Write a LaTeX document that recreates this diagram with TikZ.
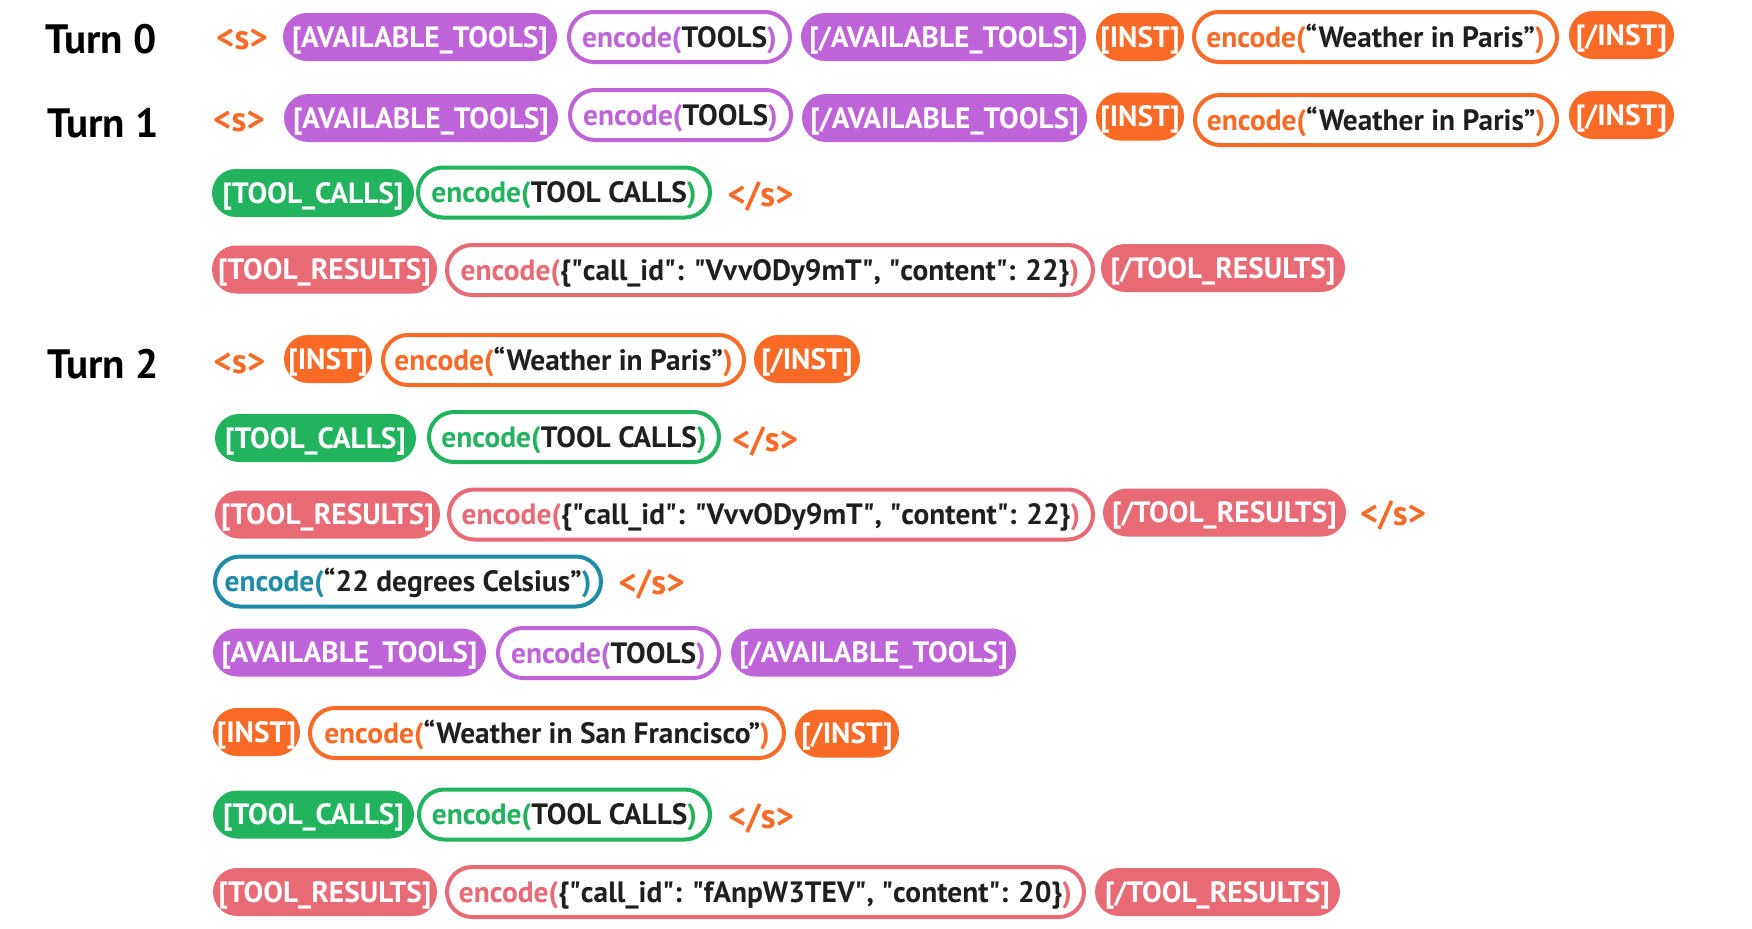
\documentclass[tikz,border=0pt]{standalone}
\usepackage{fontspec}
\setmainfont{PT Sans}
\usepackage{tikz}

\definecolor{tpurple}{HTML}{BF63D9}
\definecolor{torange}{HTML}{F86A25}
\definecolor{tgreen}{HTML}{22B35E}
\definecolor{tred}{HTML}{E86A74}
\definecolor{tteal}{HTML}{1E8DA8}
\definecolor{ink}{HTML}{1F1F1F}
\newcommand{\enctext}[2]{\textcolor{#1}{encode(}#2\textcolor{#1}{)}}
\newcommand{\qd}{\textquotedbl}

\begin{document}
\begin{tikzpicture}[x=0.5pt, y=-0.5pt,
  pill/.style={fill=#1, text=white, rounded corners=12pt, minimum height=24pt,
    inner sep=0pt, text height=12.3pt, text depth=2pt, font=\bfseries\fontsize{14.7}{17}\selectfont},
  encbox/.style={draw=#1, line width=2pt, fill=white, text=ink, rounded corners=12.5pt,
    minimum height=25pt, inner sep=0pt, text height=12.3pt, text depth=2pt,
    font=\bfseries\fontsize{14.7}{17}\selectfont},
  stok/.style={text=torange, anchor=base, inner sep=0pt, font=\bfseries\fontsize{17.5}{20}\selectfont},
  turn/.style={text=black, anchor=base west, inner sep=0pt, font=\bfseries\fontsize{20.5}{24}\selectfont}]
  \useasboundingbox (0,0) rectangle (1752,928);
  % turn labels and start tokens
  \node[turn] (turn0) at (45,53) {Turn 0};
  \node[turn] (turn1) at (47,137) {Turn 1};
  \node[turn] (turn2) at (47,378) {Turn 2};
  \foreach \x/\y/\n in {242/49/s0, 239/131/s1, 239.5/373/s2}
    \node[stok] (\n) at (\x,\y) {<s>};
  \foreach \x/\y/\n in {760.5/206/es1, 765/451/es2, 1393/525/es3, 651.5/594/es4, 761/828/es5}
    \node[stok] (\n) at (\x,\y) {</s>};
  % Turn 0
  \node[pill=tpurple, minimum width=137pt] (avt0) at (420,37) {[AVAILABLE\_TOOLS]};
  \node[encbox=tpurple, minimum width=110.5pt] (enct0) at (679.5,37) {\enctext{tpurple}{TOOLS}};
  \node[pill=tpurple, minimum width=142.5pt] (avtc0) at (943.5,37) {[/AVAILABLE\_TOOLS]};
  \node[pill=torange, minimum width=44pt] (inst0) at (1140,37) {[INST]};
  \node[encbox=torange, minimum width=181.5pt] (encw0) at (1375.5,37) {\enctext{torange}{“Weather in Paris”}};
  \node[pill=torange, minimum width=52.5pt] (instc0) at (1621.5,35) {[/INST]};
  % Turn 1
  \node[pill=tpurple, minimum width=137pt] (avt1) at (421,118) {[AVAILABLE\_TOOLS]};
  \node[encbox=tpurple, minimum width=110.5pt] (enct1) at (680.5,115) {\enctext{tpurple}{TOOLS}};
  \node[pill=tpurple, minimum width=142.5pt] (avtc1) at (944.5,118) {[/AVAILABLE\_TOOLS]};
  \node[pill=torange, minimum width=44pt] (inst1) at (1140,116.5) {[INST]};
  \node[encbox=torange, minimum width=181pt] (encw1) at (1376,120) {\enctext{torange}{“Weather in Paris”}};
  \node[pill=torange, minimum width=52.5pt] (instc1) at (1621.5,115) {[/INST]};
  \node[pill=tgreen, minimum width=101pt] (tc1) at (313,193) {[TOOL\_CALLS]};
  \node[encbox=tgreen, minimum width=146pt] (enctc1) at (564,192.5) {\enctext{tgreen}{TOOL CALLS}};
  \node[pill=tred, minimum width=112.5pt] (tr1) at (324.5,269.5) {[TOOL\_RESULTS]};
  \node[encbox=tred, minimum width=323pt] (enctr1) at (770,270)
    {\enctext{tred}{\{\qd call\_id\qd: \qd VvvODy9mT\qd, \qd content\qd: 22\}}};
  \node[pill=tred, minimum width=122pt] (trc1) at (1223,268) {[/TOOL\_RESULTS]};
  % Turn 2
  \node[pill=torange, minimum width=44pt] (inst2) at (328,359) {[INST]};
  \node[encbox=torange, minimum width=180.5pt] (encw2) at (563.5,360) {\enctext{torange}{“Weather in Paris”}};
  \node[pill=torange, minimum width=53pt] (instc2) at (807,359) {[/INST]};
  \node[pill=tgreen, minimum width=100.5pt] (tc2) at (315.5,438) {[TOOL\_CALLS]};
  \node[encbox=tgreen, minimum width=145pt] (enctc2) at (574,437) {\enctext{tgreen}{TOOL CALLS}};
  \node[pill=tred, minimum width=112.5pt] (tr2) at (327.5,514.5) {[TOOL\_RESULTS]};
  \node[encbox=tred, minimum width=322pt] (enctr2) at (771,514.5)
    {\enctext{tred}{\{\qd call\_id\qd: \qd VvvODy9mT\qd, \qd content\qd: 22\}}};
  \node[pill=tred, minimum width=121.5pt] (trc2) at (1224.5,512.5) {[/TOOL\_RESULTS]};
  \node[encbox=tteal, minimum width=193pt] (encc) at (408,581.5) {\enctext{tteal}{“22 degrees Celsius”}};
  \node[pill=tpurple, minimum width=136.5pt] (avt2) at (349.5,652.5) {[AVAILABLE\_TOOLS]};
  \node[encbox=tpurple, minimum width=110.5pt] (enct2) at (608.5,653) {\enctext{tpurple}{TOOLS}};
  \node[pill=tpurple, minimum width=142.5pt] (avtc2) at (873.5,652.5) {[/AVAILABLE\_TOOLS]};
  \node[pill=torange, minimum width=43.5pt] (inst3) at (256.5,732) {[INST]};
  \node[encbox=torange, minimum width=237pt] (encsf) at (547,733) {\enctext{torange}{“Weather in San Francisco”}};
  \node[pill=torange, minimum width=52pt] (instc3) at (847,733.5) {[/INST]};
  \node[pill=tgreen, minimum width=100.5pt] (tc3) at (313.5,814.5) {[TOOL\_CALLS]};
  \node[encbox=tgreen, minimum width=145.5pt] (enctc3) at (564.5,814.5) {\enctext{tgreen}{TOOL CALLS}};
  \node[pill=tred, minimum width=112pt] (tr3) at (325,892) {[TOOL\_RESULTS]};
  \node[encbox=tred, minimum width=318.5pt] (enctr3) at (765.5,892)
    {\enctext{tred}{\{\qd call\_id\qd: \qd fAnpW3TEV\qd, \qd content\qd: 20\}}};
  \node[pill=tred, minimum width=122.5pt] (trc3) at (1217.5,892) {[/TOOL\_RESULTS]};
\end{tikzpicture}
\end{document}
